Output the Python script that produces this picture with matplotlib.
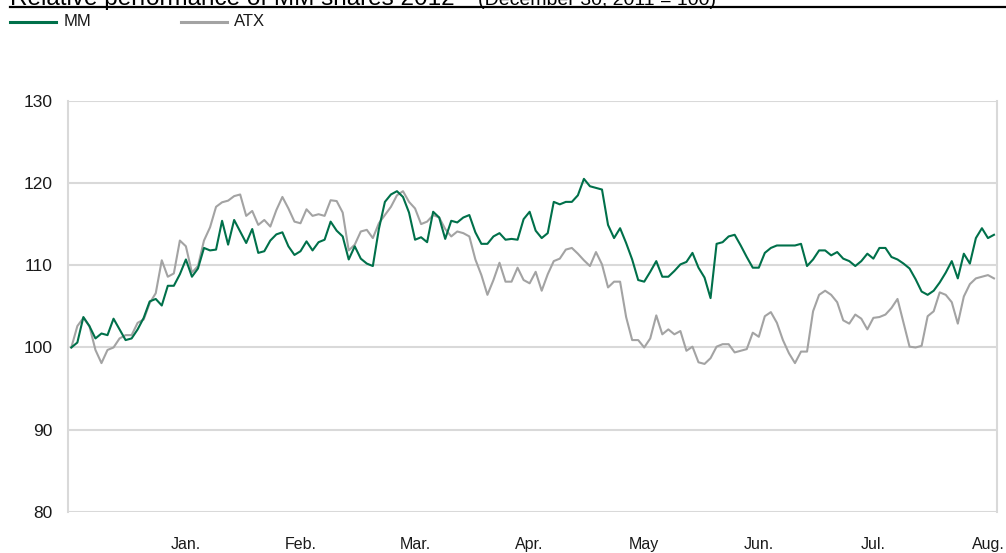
import numpy as np
import matplotlib; matplotlib.use('Agg')
import matplotlib.pyplot as plt
from matplotlib.lines import Line2D

plt.rcParams['font.family'] = ['Liberation Sans', 'DejaVu Sans']

# relative performance, December 30, 2011 = 100
mm = [100.0, 100.6, 103.7, 102.6, 101.1, 101.7, 101.5, 103.5, 102.2, 100.9,
      101.1, 102.2, 103.6, 105.6, 105.9, 105.1, 107.5, 107.5, 108.9, 110.7,
      108.6, 109.6, 112.1, 111.8, 111.9, 115.4, 112.5, 115.5, 114.1, 112.7,
      114.4, 111.5, 111.7, 113.0, 113.75, 114.0, 112.3, 111.25, 111.7, 112.9,
      111.8, 112.8, 113.1, 115.3, 114.2, 113.5, 110.7, 112.3, 110.8, 110.2,
      109.9, 114.4, 117.7, 118.6, 119.0, 118.3, 116.4, 113.1, 113.4, 112.8,
      116.5, 115.8, 113.2, 115.4, 115.2, 115.8, 116.1, 114.0, 112.6, 112.6,
      113.5, 113.9, 113.1, 113.2, 113.1, 115.6, 116.5, 114.2, 113.3, 113.9,
      117.7, 117.4, 117.7, 117.7, 118.5, 120.5, 119.6, 119.4, 119.2, 114.9,
      113.3, 114.5, 112.7, 110.7, 108.2, 108.0, 109.2, 110.5, 108.6, 108.6,
      109.3, 110.1, 110.4, 111.5, 109.7, 108.5, 106.0, 112.6, 112.8, 113.5,
      113.7, 112.4, 111.0, 109.7, 109.7, 111.5, 112.1, 112.4, 112.4, 112.4,
      112.4, 112.6, 109.9, 110.7, 111.8, 111.8, 111.2, 111.6, 110.8, 110.5,
      109.9, 110.5, 111.4, 110.8, 112.1, 112.1, 111.0, 110.7, 110.2, 109.6,
      108.3, 106.8, 106.4, 106.9, 107.9, 109.1, 110.5, 108.4, 111.4, 110.2,
      113.3, 114.5, 113.3, 113.7]
atx = [100.0, 102.6, 103.6, 102.6, 99.7, 98.1, 99.7, 100.0, 101.1, 101.5,
       101.5, 103.0, 103.4, 105.4, 106.6, 110.6, 108.6, 109.0, 113.0, 112.3,
       109.1, 109.9, 113.0, 114.6, 117.1, 117.65, 117.85, 118.4, 118.6, 116.0,
       116.6, 114.9, 115.5, 114.7, 116.7, 118.3, 116.9, 115.3, 115.1, 116.8,
       116.0, 116.2, 116.0, 117.9, 117.8, 116.4, 111.8, 112.5, 114.1, 114.3,
       113.3, 115.1, 116.1, 117.1, 118.5, 119.0, 117.7, 116.9, 115.0, 115.3,
       116.1, 115.8, 114.4, 113.5, 114.1, 113.9, 113.5, 110.7, 108.8, 106.4,
       108.2, 110.3, 108.0, 108.0, 109.7, 108.2, 107.8, 109.2, 106.9, 108.9,
       110.5, 110.8, 111.9, 112.1, 111.4, 110.6, 109.9, 111.6, 110.1, 107.3,
       108.0, 108.0, 103.7, 100.9, 100.9, 100.0, 101.1, 103.9, 101.6, 102.2,
       101.6, 102.0, 99.6, 100.1, 98.2, 98.0, 98.7, 100.1, 100.4, 100.4,
       99.4, 99.6, 99.8, 101.8, 101.3, 103.8, 104.3, 103.0, 100.9, 99.3,
       98.1, 99.5, 99.5, 104.4, 106.4, 106.9, 106.4, 105.5, 103.3, 102.9,
       104.0, 103.5, 102.2, 103.6, 103.7, 104.0, 104.8, 105.9, 103.0, 100.1,
       100.0, 100.2, 103.8, 104.4, 106.7, 106.4, 105.5, 102.9, 106.2, 107.7,
       108.4, 108.6, 108.8, 108.4]
months = ['Jan.', 'Feb.', 'Mar.', 'Apr.', 'May', 'Jun.', 'Jul.', 'Aug.']
yticks = [80, 90, 100, 110, 120, 130]

GREEN = '#00704a'; GREY = '#a3a3a3'; GRID = '#d9d9d9'; TXT = '#1a1a1a'

fig = plt.figure(figsize=(10.06, 5.53), dpi=100)
ax = fig.add_axes([68/1006, 1-512/553, (997-68)/1006, (512-100.7)/553])
x = np.arange(len(mm))
ax.plot(x, atx, color=GREY, lw=1.5, zorder=3)
ax.plot(x, mm, color=GREEN, lw=1.5, zorder=4)

ax.set_ylim(80, 130)
ax.set_xlim(-0.55, len(mm) - 0.5)
ax.set_yticks(yticks)
ax.set_xticks(np.arange(1, len(months) + 1) * 19)
ax.set_xticklabels(months)
ax.yaxis.grid(True, color=GRID, lw=1.5)
ax.set_axisbelow(True)
for s in ['top', 'bottom']:
    ax.spines[s].set_visible(False)
for s in ['left', 'right']:
    ax.spines[s].set_color(GRID); ax.spines[s].set_linewidth(1.5)
ax.tick_params(axis='both', length=0, colors=TXT)
ax.tick_params(axis='y', pad=11, labelsize=12.5)
ax.tick_params(axis='x', pad=18, labelsize=11.5)

# title (cut at the top in the source) and rule
fig.text(10/1006, 1-5/553, 'Relative performance of MM shares 2012', fontsize=17.5,
         va='baseline', ha='left')
fig.text(478/1006, 1-5/553, '(December 30, 2011 = 100)', fontsize=14,
         va='baseline', ha='left')
fig.add_artist(Line2D([10/1006, 1], [1-7/553, 1-7/553], color='black', lw=1.6))

# legend
ly = 1 - 22/553
fig.add_artist(Line2D([10/1006, 56/1006], [ly, ly], color=GREEN, lw=2.2))
fig.text(64/1006, ly, 'MM', fontsize=12, va='center', ha='left', color=TXT)
fig.add_artist(Line2D([181/1006, 227/1006], [ly, ly], color=GREY, lw=2.2))
fig.text(234/1006, ly, 'ATX', fontsize=12, va='center', ha='left', color=TXT)

fig.savefig('out.png', dpi=100)
